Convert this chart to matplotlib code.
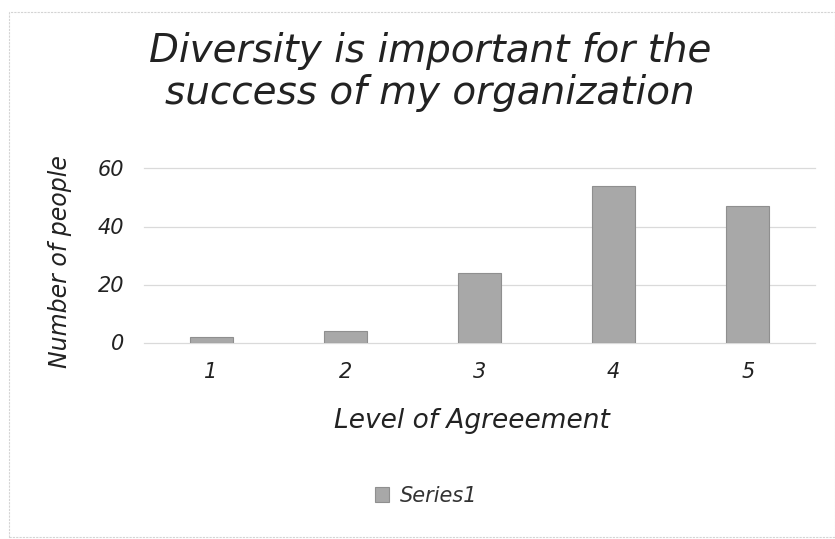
import matplotlib
matplotlib.use("Agg")
import matplotlib.pyplot as plt
from matplotlib.patches import Rectangle

categories = ["1", "2", "3", "4", "5"]
values = [2, 4, 24, 54, 47]
yticks = [0, 20, 40, 60]
series_name = "Series1"
title = "Diversity is important for the\nsuccess of my organization"
xlabel = "Level of Agreeement"
ylabel = "Number of people"

plt.rcParams['font.family'] = ['DejaVu Sans']
W, H = 835, 539
fig = plt.figure(figsize=(W/100, H/100), dpi=100)
fig.patch.set_facecolor('white')

def fx(px): return px / W
def fy(py): return 1 - py / H

STYLE = 'oblique'
ax = fig.add_axes([fx(144), fy(342.5), fx(815) - fx(144), fy(168.5) - fy(342.5)])
x = list(range(len(categories)))
bars = ax.bar(x, values, width=0.32, color='#a8a8a8', edgecolor='#8f8f8f',
              linewidth=0.8, label=series_name, zorder=3)
ax.set_xlim(-0.5, len(categories) - 0.5)
ax.set_ylim(0, 60)
ax.set_yticks(yticks)
ax.set_yticklabels([str(v) for v in yticks], fontsize=15, style=STYLE,
                   color='#222222')
ax.set_xticks(x)
ax.set_xticklabels(categories, fontsize=15, style=STYLE, color='#222222')
ax.tick_params(axis='y', length=0, pad=14)
ax.tick_params(axis='x', length=0, pad=14)
ax.grid(axis='y', color='#dadada', linewidth=0.9, zorder=0)
for gl in ax.get_ygridlines():
    gl.set_clip_on(False)
for s in ax.spines.values():
    s.set_visible(False)

fig.text(fx(430), fy(72), title, ha='center', va='center', fontsize=28,
         style=STYLE, color='#222222', linespacing=1.15)
fig.text(fx(60), fy(262), ylabel, ha='center', va='center', rotation=90,
         fontsize=17, style=STYLE, color='#222222')
fig.text(fx(472), fy(421), xlabel, ha='center', va='center',
         fontsize=19, style=STYLE, color='#222222')

leg = fig.legend(handles=[bars], labels=[series_name], loc='center',
                 bbox_to_anchor=(fx(426), fy(496)), frameon=False,
                 prop={'size': 15, 'style': STYLE}, handlelength=0.7,
                 handleheight=0.7, handletextpad=0.5)
for t in leg.get_texts():
    t.set_color('#333333')

fig.add_artist(Rectangle((fx(9), fy(537)), fx(835) - fx(9), fy(12) - fy(537),
                         transform=fig.transFigure, fill=False,
                         edgecolor='#d4d4d4', linewidth=0.8, linestyle=(0, (2, 1))))

fig.savefig("out.png", dpi=100, facecolor='white')
